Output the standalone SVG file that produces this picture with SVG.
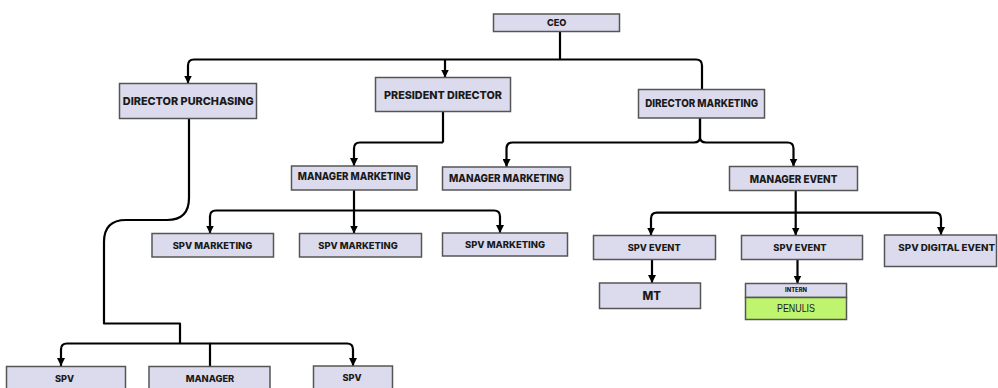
<svg xmlns="http://www.w3.org/2000/svg" width="998" height="388" viewBox="0 0 998 388">
<defs>
<marker id="ah" viewBox="0 0 10 10" refX="10" refY="5" markerWidth="8" markerHeight="8" markerUnits="userSpaceOnUse" orient="auto">
<path d="M0,0 L10,5 L0,10 z" fill="#000"/>
</marker>
<style>
.box{fill:#dcdbed;stroke:#555;stroke-width:1.5}
.green{fill:#bff56e;stroke:#555;stroke-width:1.5}
.t{font-family:"Inter","Open Sans","DejaVu Sans",sans-serif;font-weight:800;fill:#1a1a1a;text-anchor:middle}
.l{font-size:11px}
.s{font-size:9.2px}
.p{font-family:"Liberation Sans",Arial,sans-serif;font-size:10.5px;fill:#1a1a1a;text-anchor:middle}
.c{fill:none;stroke:#000;stroke-width:2.2;stroke-linejoin:round}
.a{marker-end:url(#ah)}
</style>
</defs>
<rect width="998" height="388" fill="#fff"/>
<g id="connectors">
<path class="c" d="M560,31.5 V59.5"/>
<path class="c a" d="M560,59.5 H194 Q188,59.5 188,65.5 V83.5"/>
<path class="c a" d="M445,59.5 V77.5"/>
<path class="c" d="M560,59.5 H696 Q702,59.5 702,65.5 V89.5"/>
<path class="c" d="M443,111.5 V142.5"/>
<path class="c a" d="M443,142.5 H360 Q354,142.5 354,148.5 V166"/>
<path class="c a" d="M700,118 V137 Q700,142.5 694,142.5 H512.5 Q506.5,142.5 506.5,148.5 V167"/>
<path class="c a" d="M700,118 V137 Q700,142.5 706,142.5 H787.5 Q793.5,142.5 793.5,148.5 V166.5"/>
<path class="c a" d="M354,190 V233.5"/>
<path class="c a" d="M354,210.5 H216 Q210,210.5 210,216.5 V233.5"/>
<path class="c a" d="M354,210.5 H494 Q500,210.5 500,216.5 V233"/>
<path class="c a" d="M795.7,190.5 V235.5"/>
<path class="c a" d="M795.7,212.7 H657 Q651,212.7 651,218.7 V235.5"/>
<path class="c a" d="M795.7,212.7 H935 Q941,212.7 941,218.7 V235"/>
<path class="c a" d="M652,259.5 V283"/>
<path class="c a" d="M797.5,259.5 V283.5"/>
<path class="c" d="M189,118.5 V198 Q189,220 167,220 H126 Q104,220 104,242 V323.5 H180 V343.5"/>
<path class="c a" d="M210,366.5 V343.5 H67 Q61,343.5 61,349.5 V366"/>
<path class="c a" d="M210,343.5 H347 Q353,343.5 353,349.5 V366"/>
</g>
<g id="ceo"><rect class="box" x="493.5" y="14" width="126" height="17.5"/><text class="t s" x="556.7" y="26">CEO</text></g>
<g id="director-purchasing"><rect class="box" x="119.5" y="83.5" width="137" height="35"/><text class="t l" x="188.3" y="104.7" textLength="131" lengthAdjust="spacingAndGlyphs">DIRECTOR PURCHASING</text></g>
<g id="president-director"><rect class="box" x="375.5" y="77.5" width="135" height="34"/><text class="t l" x="443" y="98.7" textLength="118" lengthAdjust="spacingAndGlyphs">PRESIDENT DIRECTOR</text></g>
<g id="director-marketing"><rect class="box" x="638.5" y="89.5" width="126" height="28.5"/><text class="t l" x="701.7" y="107.3" textLength="113" lengthAdjust="spacingAndGlyphs">DIRECTOR MARKETING</text></g>
<g id="manager-marketing-1"><rect class="box" x="291.5" y="166" width="125.5" height="24"/><text class="t l" x="354.3" y="180" textLength="113" lengthAdjust="spacingAndGlyphs">MANAGER MARKETING</text></g>
<g id="manager-marketing-2"><rect class="box" x="442.5" y="167" width="128" height="23"/><text class="t l" x="506.5" y="182" textLength="115" lengthAdjust="spacingAndGlyphs">MANAGER MARKETING</text></g>
<g id="manager-event"><rect class="box" x="729.5" y="166.5" width="128" height="24"/><text class="t l" x="793.5" y="182.7" textLength="87.7" lengthAdjust="spacingAndGlyphs">MANAGER EVENT</text></g>
<g id="spv-marketing-1"><rect class="box" x="152" y="233.5" width="121.5" height="23.5"/><text class="t s" x="212.5" y="249" textLength="79.7" lengthAdjust="spacingAndGlyphs">SPV MARKETING</text></g>
<g id="spv-marketing-2"><rect class="box" x="299.5" y="233.5" width="122" height="23.5"/><text class="t s" x="358" y="249" textLength="79.4" lengthAdjust="spacingAndGlyphs">SPV MARKETING</text></g>
<g id="spv-marketing-3"><rect class="box" x="442.5" y="233" width="125" height="23"/><text class="t s" x="505" y="247.5" textLength="80" lengthAdjust="spacingAndGlyphs">SPV MARKETING</text></g>
<g id="spv-event-1"><rect class="box" x="593.5" y="235.5" width="122" height="24"/><text class="t s" x="654.2" y="250.5" textLength="53" lengthAdjust="spacingAndGlyphs">SPV EVENT</text></g>
<g id="spv-event-2"><rect class="box" x="741.5" y="235.5" width="121" height="24"/><text class="t s" x="800" y="250.5" textLength="53.3" lengthAdjust="spacingAndGlyphs">SPV EVENT</text></g>
<g id="spv-digital-event"><rect class="box" x="884.5" y="235" width="112" height="31.5"/><text class="t s" x="946.7" y="250.5" textLength="96.7" lengthAdjust="spacingAndGlyphs">SPV DIGITAL EVENT</text></g>
<g id="mt"><rect class="box" x="599.5" y="283" width="101" height="25.5"/><text class="t" style="font-size:11.4px" x="651.8" y="300">MT</text></g>
<g id="intern-penulis"><rect class="box" x="745.5" y="283.5" width="101" height="14"/><text class="t" style="font-size:5.8px" x="796" y="292.2">INTERN</text><rect class="green" x="745.5" y="297.5" width="101" height="22"/><text class="p" x="796" y="312" textLength="38" lengthAdjust="spacingAndGlyphs">PENULIS</text></g>
<g id="spv-bottom-1"><rect class="box" x="6.5" y="366.5" width="119" height="30"/><text class="t s" x="64.5" y="382">SPV</text></g>
<g id="manager-bottom"><rect class="box" x="149" y="366.5" width="121" height="30"/><text class="t s" x="210" y="382" textLength="48.6" lengthAdjust="spacingAndGlyphs">MANAGER</text></g>
<g id="spv-bottom-2"><rect class="box" x="313.5" y="366" width="79" height="30"/><text class="t s" x="352" y="380.5">SPV</text></g>
</svg>
